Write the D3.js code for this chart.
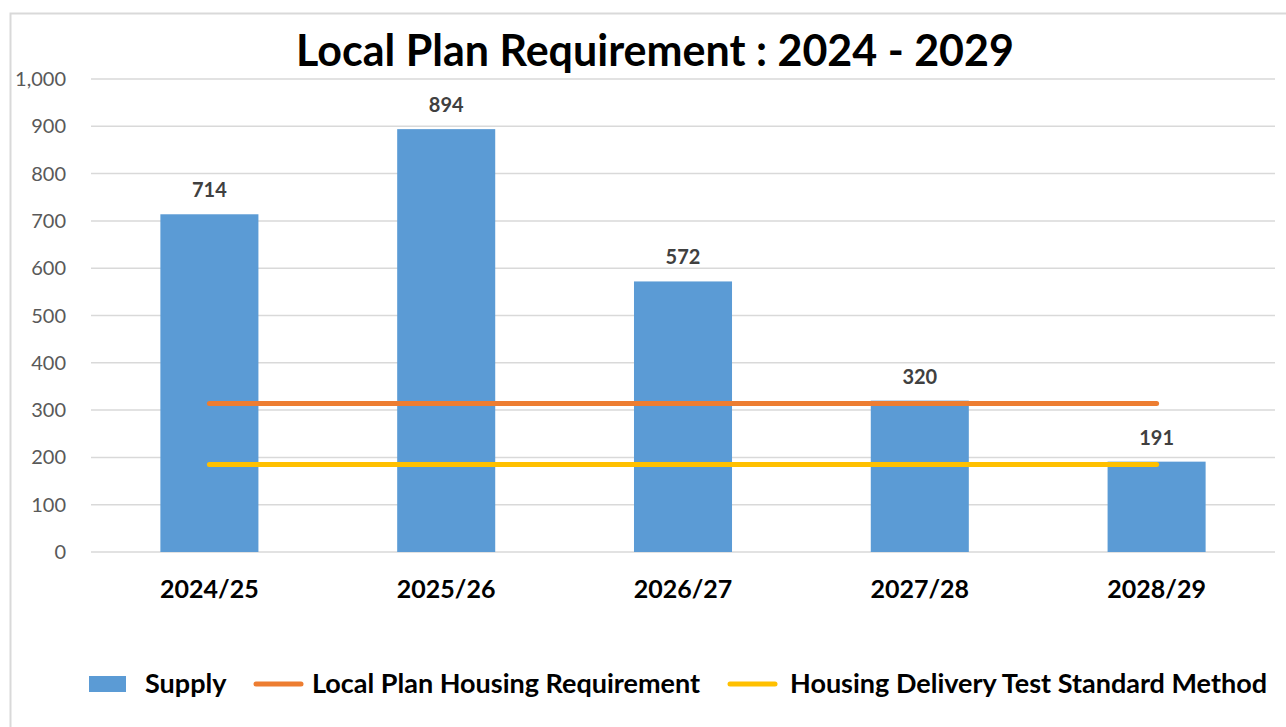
<!DOCTYPE html>
<html>
<head>
<meta charset="utf-8">
<script src="https://cdn.jsdelivr.net/npm/d3@7"></script>
<style>
  body { margin: 0; background: #fff; }
  svg { display: block; font-family: Lato, "Open Sans", sans-serif; }
</style>
</head>
<body>
<div id="chart"></div>
<script>
// chart data
var years = ["2024/25", "2025/26", "2026/27", "2027/28", "2028/29"];
var supply = [714, 894, 572, 320, 191];
var localPlanReq = [314, 314, 314, 314, 314];
var hdtStandard = [185, 185, 185, 185, 185];
var yTicks = [0, 100, 200, 300, 400, 500, 600, 700, 800, 900, 1000];

var W = 1286, H = 727;
var plotLeft = 91, plotRight = 1275, plotTop = 79, plotBottom = 552;

var svg = d3.select("#chart").append("svg")
    .attr("width", W).attr("height", H);

// outer chart border (top + left visible)
svg.append("path")
    .attr("d", "M10.5," + H + " L10.5,13.5 L" + W + ",13.5")
    .attr("fill", "none").attr("stroke", "#d9d9d9").attr("stroke-width", 2);

var x = d3.scaleBand().domain(years).range([plotLeft, plotRight]).paddingInner(0.586).paddingOuter(0.293);
var y = d3.scaleLinear().domain([0, 1000]).range([plotBottom, plotTop]);

// gridlines
svg.append("g").selectAll("line").data(yTicks).join("line")
    .attr("x1", plotLeft).attr("x2", plotRight)
    .attr("y1", d => y(d)).attr("y2", d => y(d))
    .attr("stroke", "#d9d9d9").attr("stroke-width", 1.5);

// y axis labels
var fmt = d3.format(",");
svg.append("g").selectAll("text").data(yTicks).join("text")
    .attr("x", 66).attr("y", d => y(d)).attr("dy", "0.35em")
    .attr("text-anchor", "end")
    .attr("font-size", 20).attr("fill", "#595959")
    .text(d => fmt(d));

// bars
svg.append("g").selectAll("rect").data(supply).join("rect")
    .attr("x", (d, i) => x(years[i]))
    .attr("width", x.bandwidth())
    .attr("y", d => y(d))
    .attr("height", d => y(0) - y(d))
    .attr("fill", "#5b9bd5");

// data labels
svg.append("g").selectAll("text").data(supply).join("text")
    .attr("x", (d, i) => x(years[i]) + x.bandwidth() / 2)
    .attr("y", d => y(d) - 17)
    .attr("text-anchor", "middle")
    .attr("font-size", 20).attr("font-weight", "bold").attr("fill", "#404040")
    .text(d => d);

// lines
var line = d3.line()
    .x((d, i) => x(years[i]) + x.bandwidth() / 2)
    .y(d => y(d));

svg.append("path").attr("d", line(localPlanReq))
    .attr("fill", "none").attr("stroke", "#ed7d31").attr("stroke-width", 5)
    .attr("stroke-linecap", "round");
svg.append("path").attr("d", line(hdtStandard))
    .attr("fill", "none").attr("stroke", "#ffc000").attr("stroke-width", 5)
    .attr("stroke-linecap", "round");

// x axis labels
svg.append("g").selectAll("text").data(years).join("text")
    .attr("x", d => x(d) + x.bandwidth() / 2)
    .attr("y", 598)
    .attr("text-anchor", "middle")
    .attr("font-size", 25).attr("font-weight", "bold").attr("fill", "#000")
    .text(d => d);

// title
svg.append("text")
    .attr("x", 655).attr("y", 66)
    .attr("text-anchor", "middle")
    .attr("font-size", 43).attr("font-weight", "bold").attr("fill", "#000")
    .text("Local Plan Requirement : 2024 - 2029");

// legend
var lg = svg.append("g").attr("font-size", 27).attr("font-weight", "bold").attr("fill", "#000");
lg.append("rect").attr("x", 89).attr("y", 676).attr("width", 37).attr("height", 16).attr("fill", "#5b9bd5");
lg.append("text").attr("x", 145).attr("y", 693).text("Supply");
lg.append("line").attr("x1", 256).attr("x2", 301).attr("y1", 684).attr("y2", 684)
    .attr("stroke", "#ed7d31").attr("stroke-width", 5).attr("stroke-linecap", "round");
lg.append("text").attr("x", 312).attr("y", 693).text("Local Plan Housing Requirement");
lg.append("line").attr("x1", 730).attr("x2", 775).attr("y1", 684).attr("y2", 684)
    .attr("stroke", "#ffc000").attr("stroke-width", 5).attr("stroke-linecap", "round");
lg.append("text").attr("x", 790).attr("y", 693).text("Housing Delivery Test Standard Method");
</script>
</body>
</html>
